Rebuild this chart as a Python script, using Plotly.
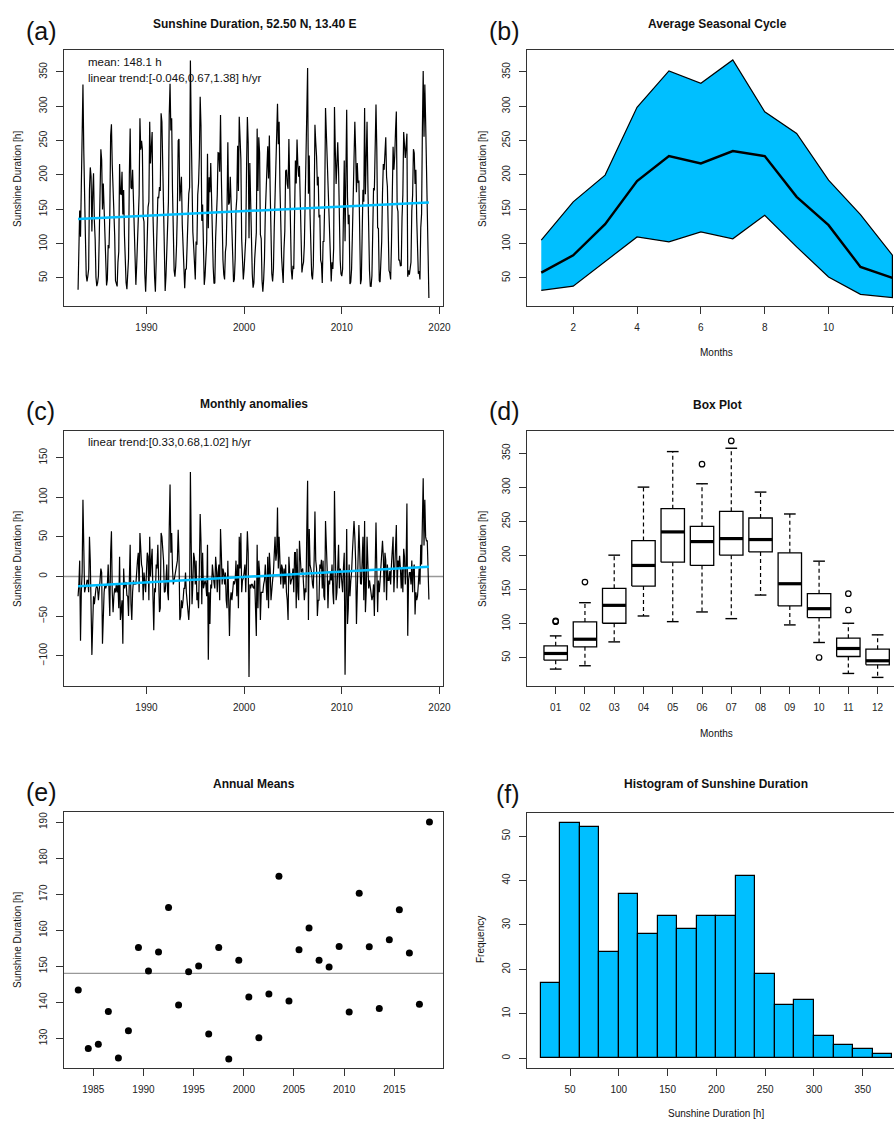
import numpy as np
import plotly.graph_objects as go

# ---------------- data ----------------
years = list(range(1983, 2019))
months = list(range(1, 13))
month_labels = ["01", "02", "03", "04", "05", "06", "07", "08", "09", "10", "11", "12"]

# average seasonal cycle (panel b)
clim_mean = [57.8, 83.1, 128.3, 191.0, 227.5, 216.8, 234.8, 227.5, 168.2, 126.9, 66.1, 50.0]
clim_min = [32.0, 38.0, 73.4, 109.8, 102.6, 117.1, 107.0, 141.4, 95.3, 51.5, 26.2, 21.4]
clim_max = [105.0, 160.9, 199.8, 298.5, 351.5, 333.5, 367.5, 292.1, 260.5, 192.5, 142.4, 83.1]

# monthly anomalies (panel c), one row per year, Jan..Dec
monthly_anomalies = [
    [-25, -10, 20, -81, -20, 5, 97, 10, -20, -15, -12, -5],      # 1983
    [-5, -20, 50, 20, -30, -99, -60, -25, -35, -20, -15, -12],   # 1984
    [-15, -30, -20, -5, 10, 5, -85, -40, -20, -10, -15, -11],    # 1985
    [-10, 15, -35, -50, 30, 57, -20, -45, -25, -15, -20, -9],    # 1986
    [-20, -10, -40, 25, -55, -45, -30, -85, 10, -15, -10, -7],   # 1987
    [-24, -25, -50, 10, 40, -35, -55, -20, -5, -10, -8, -10],    # 1988
    [10, 20, 30, -20, 55, 20, 15, 10, -30, 5, -10, -20],         # 1989
    [5, 30, 25, -30, 50, 0, 20, 35, -25, -68, -15, -20],         # 1990
    [15, 10, 40, -25, -45, -40, 55, 50, 30, 20, -20, -19],       # 1991
    [-5, 15, -20, -30, 60, 116, 30, 55, 10, -10, -5, 2],         # 1992
    [10, 15, 20, 59, 25, -55, -50, -30, -40, -30, -15, -15],     # 1993
    [5, -20, -30, -40, -55, -35, 132, 40, -35, -10, 30, 23],     # 1994
    [-10, 20, -30, -20, -40, 10, 79, 45, -35, 30, -15, -10],     # 1995
    [-5, -10, -25, 40, -105, -20, -60, -10, -15, 15, 0, -8],     # 1996
    [-15, 25, 10, -20, 5, 15, -30, 60, 30, -10, 10, 5],          # 1997
    [-10, 5, -30, -40, 20, -60, -75, -30, -20, -30, -10, -6],    # 1998
    [-10, -5, 20, -25, 15, -40, 50, 10, 55, -20, -5, -2],        # 1999
    [5, 15, -20, 20, 57, 30, -127, -10, -15, -10, -10, -14],     # 2000
    [-15, -5, -30, -75, 40, -40, 20, 5, -55, -20, -20, -20],     # 2001
    [-10, -5, 15, -20, -30, 25, -40, 30, 10, -30, -10, -5],      # 2002
    [5, 40, 50, 20, 30, 87, 10, 50, 15, -10, 15, 11],            # 2003
    [-15, 10, -10, 15, -20, -30, -55, 25, 5, -10, -5, -2],       # 2004
    [10, -20, 30, 30, -40, 35, -20, -30, 45, 25, 5, 8],          # 2005
    [10, -10, -30, -15, -20, 60, 121, -55, 60, 15, 10, 4],       # 2006
    [-10, -15, 20, 82, 20, 10, -50, -30, -30, 15, 10, 21],       # 2007
    [-15, 20, -25, -30, 70, 45, 10, -40, -5, -10, 5, -5],        # 2008
    [15, -20, -35, 108, 10, -30, -20, 20, 40, -15, 10, 6],       # 2009
    [-5, -20, 10, 30, -124, 35, 60, -60, -40, 15, -25, -6],      # 2010
    [5, 30, 55, 70, 50, 20, -60, -10, 20, 65, 30, -9],           # 2011
    [-10, 35, 50, -30, 70, -45, -20, 50, 20, -15, -5, -12],      # 2012
    [-20, -30, -25, -10, -50, 15, 68, 10, -45, -5, -20, -6],     # 2013
    [10, 20, 45, 25, -20, 30, 20, -30, 15, -5, -5, 7],           # 2014
    [-10, 15, 30, 50, -20, 10, 30, 65, -15, 20, 10, 26],         # 2015
    [10, -15, 10, -20, 35, 25, -10, 15, 92, -75, -5, 5],         # 2016
    [5, -10, 20, -20, 10, 15, -48, -20, -30, -25, -10, 10],      # 2017
    [-10, 40, 15, 77, 124, 39, 97, 50, 45, 45, 10, -29],         # 2018
]

# annual means (panel e)
annual_means = [143.4, 127.2, 128.4, 137.5, 124.6, 132.1, 155.2, 148.7, 154.0, 166.3,
                139.3, 148.5, 150.1, 131.2, 155.2, 124.3, 151.7, 141.5, 130.2, 142.3,
                175.0, 140.4, 154.6, 160.6, 151.7, 149.8, 155.5, 137.3, 170.3, 155.4,
                138.3, 157.4, 165.7, 153.7, 139.5, 190.0]

# box plot statistics (panel d)
box_lower = [33.4, 38.3, 73.3, 111.3, 103.0, 117.2, 107.4, 142.0, 98.2, 72.4, 27.0, 21.2]
box_q1 = [46.5, 66.0, 100.6, 155.2, 190.2, 185.4, 200.5, 205.3, 126.0, 108.9, 51.9, 39.7]
box_median = [56.3, 77.2, 126.9, 185.4, 234.6, 220.4, 224.8, 223.4, 158.6, 122.0, 63.6, 45.6]
box_q3 = [67.5, 102.6, 151.8, 221.9, 268.7, 242.8, 264.8, 255.0, 203.9, 144.0, 78.7, 62.6]
box_upper = [82.1, 130.8, 200.5, 300.3, 352.4, 305.2, 357.3, 293.0, 260.9, 191.7, 100.6, 83.6]
outlier_month = [1, 1, 2, 6, 7, 10, 11, 11]
outlier_value = [103.0, 104.0, 161.0, 333.9, 368.0, 50.4, 120.1, 144.0]

# histogram (panel f)
hist_edges = [20, 40, 60, 80, 100, 120, 140, 160, 180, 200, 220, 240, 260, 280, 300, 320, 340, 360, 380]
hist_counts = [17, 53, 52, 24, 37, 28, 32, 29, 32, 32, 41, 19, 12, 13, 5, 3, 2, 1]

trend_slope_series = 0.67   # h/yr
trend_slope_anom = 0.68     # h/yr

# ---------------- derived ----------------
anom = np.array(monthly_anomalies, dtype=float).ravel()
t = years[0] + np.arange(anom.size) / 12.0
series = np.tile(clim_mean, len(years)) + anom
series_mean = float(series.mean())
t_mean = float(t.mean())
trend_a = series_mean + trend_slope_series * (t[[0, -1]] - t_mean)
trend_c = trend_slope_anom * (t[[0, -1]] - t_mean)

# ---------------- layout helpers ----------------
W, H = 894, 1121
def fx(p):
    return p / W
def fy(p):
    return 1 - p / H

FONT = "Liberation Sans, Arial, Helvetica, sans-serif"
SKY = "#00BFFF"
AXC = "#333333"

fig = go.Figure()

# (a)
fig.add_trace(go.Scatter(x=t, y=series, mode="lines", line=dict(color="black", width=1.2),
                         xaxis="x", yaxis="y", hoverinfo="skip"))
fig.add_trace(go.Scatter(x=t[[0, -1]], y=trend_a, mode="lines", line=dict(color=SKY, width=2.5),
                         xaxis="x", yaxis="y"))

# (b)
fig.add_trace(go.Scatter(x=months + months[::-1], y=clim_max + clim_min[::-1], mode="lines",
                         fill="toself", fillcolor=SKY, line=dict(color="black", width=1.2),
                         xaxis="x2", yaxis="y2"))
fig.add_trace(go.Scatter(x=months, y=clim_mean, mode="lines", line=dict(color="black", width=2.4),
                         xaxis="x2", yaxis="y2"))

# (c)
fig.add_trace(go.Scatter(x=t, y=anom, mode="lines", line=dict(color="black", width=1.2),
                         xaxis="x3", yaxis="y3", hoverinfo="skip"))
fig.add_trace(go.Scatter(x=t[[0, -1]], y=trend_c, mode="lines", line=dict(color=SKY, width=2.5),
                         xaxis="x3", yaxis="y3"))

# (d) box plot drawn with lines
bx, by, wx, wy, cx, cy, mx, my = [], [], [], [], [], [], [], []
for i, m in enumerate(months):
    x0, x1 = m - 0.4, m + 0.4
    bx += [x0, x1, x1, x0, x0, None]
    by += [box_q1[i], box_q1[i], box_q3[i], box_q3[i], box_q1[i], None]
    wx += [m, m, None, m, m, None]
    wy += [box_q3[i], box_upper[i], None, box_q1[i], box_lower[i], None]
    cx += [m - 0.2, m + 0.2, None, m - 0.2, m + 0.2, None]
    cy += [box_upper[i], box_upper[i], None, box_lower[i], box_lower[i], None]
    mx += [x0, x1, None]
    my += [box_median[i], box_median[i], None]
fig.add_trace(go.Scatter(x=wx, y=wy, mode="lines", line=dict(color="black", width=1.2, dash="4px,3px"),
                         xaxis="x4", yaxis="y4"))
fig.add_trace(go.Scatter(x=cx, y=cy, mode="lines", line=dict(color="black", width=1.4),
                         xaxis="x4", yaxis="y4"))
fig.add_trace(go.Scatter(x=bx, y=by, mode="lines", line=dict(color="black", width=1.3),
                         xaxis="x4", yaxis="y4"))
fig.add_trace(go.Scatter(x=mx, y=my, mode="lines", line=dict(color="black", width=3.2),
                         xaxis="x4", yaxis="y4"))
fig.add_trace(go.Scatter(x=outlier_month, y=outlier_value, mode="markers",
                         marker=dict(symbol="circle-open", size=5.5, color="black", line=dict(width=1.2)),
                         xaxis="x4", yaxis="y4"))

# (e)
fig.add_trace(go.Scatter(x=[y + 0.5 for y in years], y=annual_means, mode="markers",
                         marker=dict(size=7, color="black"), xaxis="x5", yaxis="y5"))

# (f)
centers = [(hist_edges[i] + hist_edges[i + 1]) / 2 for i in range(len(hist_counts))]
fig.add_trace(go.Bar(x=centers, y=hist_counts, width=20, marker=dict(color=SKY, line=dict(color="black", width=1.2)),
                     xaxis="x6", yaxis="y6"))

# ---------------- axes ----------------
def axis(domain, rng, tickvals, ticktext=None, mirror=True, angle=None, standoff=None):
    d = dict(domain=domain, range=rng, tickvals=tickvals, showline=True, linecolor=AXC, linewidth=1.3,
             mirror=mirror, ticks="outside", ticklen=7, tickwidth=1, tickcolor=AXC,
             showgrid=False, zeroline=False, fixedrange=True, automargin=False,
             tickfont=dict(family=FONT, size=10, color="#222"))
    if ticktext is not None:
        d["ticktext"] = ticktext
    if angle is not None:
        d["tickangle"] = angle
    if standoff is not None:
        d["ticklabelstandoff"] = standoff
    return d

L = [fx(64), fx(443)]
R = [fx(527), 1.0]
rowA = [fy(306), fy(50)]
rowC = [fy(686), fy(431)]
rowE = [fy(1068), fy(812)]

fig.update_layout(
    xaxis=dict(axis(L, [1981.56, 2020.36], [1990, 2000, 2010, 2020], standoff=5), anchor="y"),
    yaxis=dict(axis(rowA, [9.2, 382], [50, 100, 150, 200, 250, 300, 350], angle=-90, standoff=5), anchor="x"),
    xaxis2=dict(axis(R, [0.553, 12.05], [2, 4, 6, 8, 10, 12], standoff=5), anchor="y2"),
    yaxis2=dict(axis(rowA, [9.2, 382], [50, 100, 150, 200, 250, 300, 350], mirror=False, angle=-90, standoff=5), anchor="x2"),
    xaxis3=dict(axis(L, [1981.56, 2020.36], [1990, 2000, 2010, 2020], standoff=5), anchor="y3"),
    yaxis3=dict(axis(rowC, [-138.3, 183.7], [-100, -50, 0, 50, 100, 150], angle=-90, standoff=5), anchor="x3"),
    xaxis4=dict(axis(R, [0.02, 12.56], months, month_labels, standoff=5), anchor="y4"),
    yaxis4=dict(axis(rowC, [8.6, 382.6], [50, 100, 150, 200, 250, 300, 350], mirror=False, angle=-90, standoff=5), anchor="x4"),
    xaxis5=dict(axis(L, [1982.08, 2019.85], [1985, 1990, 1995, 2000, 2005, 2010, 2015], standoff=5), anchor="y5"),
    yaxis5=dict(axis(rowE, [121.8, 192.8], [130, 140, 150, 160, 170, 180, 190], angle=-90, standoff=5), anchor="x5"),
    xaxis6=dict(axis(R, [5.9, 382], [50, 100, 150, 200, 250, 300, 350], standoff=5), anchor="y6"),
    yaxis6=dict(axis([fy(1068), fy(813)], [-2.2, 55.2], [0, 10, 20, 30, 40, 50], mirror=False, angle=-90, standoff=5), anchor="x6"),
)

# reference lines
fig.add_shape(type="line", xref="x3 domain", yref="y3", x0=0, x1=1, y0=0, y1=0,
              line=dict(color="#999999", width=1.3), layer="below")
fig.add_shape(type="line", xref="x5 domain", yref="y5", x0=0, x1=1, y0=series_mean, y1=series_mean,
              line=dict(color="#999999", width=1.3), layer="below")

# ---------------- text ----------------
ann = []
def text(x, y, s, size=10, xanchor="center", yanchor="middle", angle=0, bold=False):
    ann.append(dict(x=fx(x), y=fy(y), xref="paper", yref="paper", text=("<b>%s</b>" % s) if bold else s,
                    showarrow=False, xanchor=xanchor, yanchor=yanchor, textangle=angle,
                    font=dict(family=FONT, size=size, color="#111")))

# panel labels
for lab, x, y in [("(a)", 24, 31), ("(b)", 487, 31), ("(c)", 24, 411), ("(d)", 487, 411),
                  ("(e)", 24, 792), ("(f)", 494, 794)]:
    text(x, y, lab, size=25, xanchor="left")

# titles
text(254, 24, "Sunshine Duration, 52.50 N, 13.40 E", size=12, bold=True)
text(717, 24, "Average Seasonal Cycle", size=12, bold=True)
text(254, 404, "Monthly anomalies", size=12, bold=True)
text(717, 405, "Box Plot", size=12, bold=True)
text(254, 784, "Annual Means", size=12, bold=True)
text(716, 784, "Histogram of Sunshine Duration", size=12, bold=True)

# in-plot text
text(86, 62, "mean: 148.1 h", size=11.5, xanchor="left")
text(86, 78, "linear trend:[-0.046,0.67,1.38] h/yr", size=11.5, xanchor="left")
text(86, 442, "linear trend:[0.33,0.68,1.02] h/yr", size=11.5, xanchor="left")

# axis titles
text(17, 179, "Sunshine Duration [h]", size=10, angle=-90)
text(482, 179, "Sunshine Duration [h]", size=10, angle=-90)
text(716, 352, "Months", size=10)
text(17, 559, "Sunshine Duration [h]", size=10, angle=-90)
text(482, 559, "Sunshine Duration [h]", size=10, angle=-90)
text(716, 733, "Months", size=10)
text(17, 940, "Sunshine Duration [h]", size=10, angle=-90)
text(480, 940, "Frequency", size=10, angle=-90)
text(716, 1113, "Sunshine Duration [h]", size=10)

fig.update_layout(
    annotations=ann,
    width=W, height=H,
    margin=dict(l=0, r=0, t=0, b=0),
    paper_bgcolor="white", plot_bgcolor="white",
    showlegend=False, bargap=0,
    font=dict(family=FONT, size=10, color="#222"),
)

fig.write_html("out.html", config={"displayModeBar": False},
               post_script="document.body.style.margin='0';document.body.style.overflow='hidden';")
